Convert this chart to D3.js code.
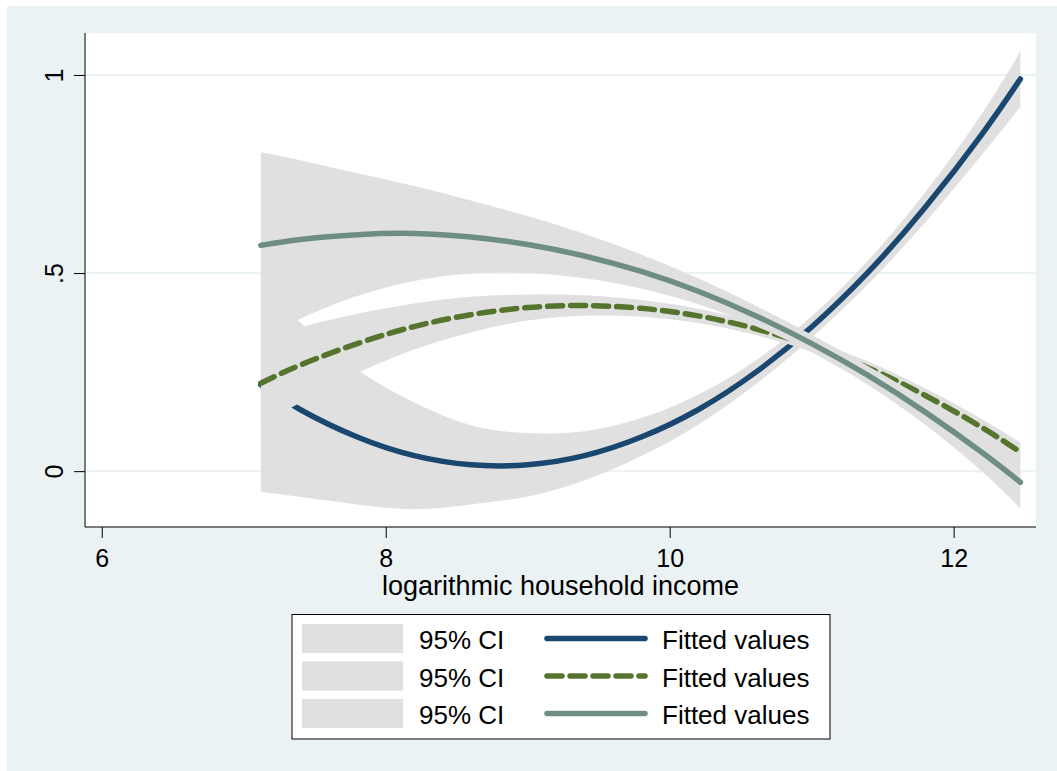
<!DOCTYPE html>
<html>
<head>
<meta charset="utf-8">
<script src="https://cdn.jsdelivr.net/npm/d3@7"></script>
<style>
  body { margin: 0; background: #fff; }
  svg { display: block; font-family: "Liberation Sans", Arial, sans-serif; }
</style>
</head>
<body>
<div id="chart"></div>
<script>
// Data (log household income on x)
const xGrid = [7.12, 7.4, 7.8, 8.2, 8.6, 9.0, 9.4, 9.8, 10.2, 10.6, 11.0, 11.4, 11.8, 12.2, 12.47];

const fit1 = [0.218, 0.155, 0.086, 0.039, 0.016, 0.016, 0.039, 0.086, 0.155, 0.248, 0.364, 0.503, 0.666, 0.851, 0.990];
const lo1  = [-0.052, -0.065, -0.084, -0.096, -0.084, -0.064, -0.023, 0.038, 0.117, 0.218, 0.337, 0.473, 0.628, 0.799, 0.920];
const hi1  = [0.488, 0.375, 0.256, 0.174, 0.116, 0.096, 0.101, 0.134, 0.193, 0.278, 0.391, 0.533, 0.704, 0.903, 1.060];

const fit2 = [0.222, 0.268, 0.322, 0.365, 0.395, 0.413, 0.418, 0.411, 0.392, 0.360, 0.316, 0.260, 0.191, 0.110, 0.048];
const lo2  = [0.112, 0.173, 0.247, 0.307, 0.350, 0.380, 0.392, 0.390, 0.374, 0.344, 0.301, 0.244, 0.173, 0.089, 0.024];
const hi2  = [0.332, 0.363, 0.397, 0.423, 0.440, 0.446, 0.444, 0.432, 0.410, 0.376, 0.331, 0.276, 0.209, 0.131, 0.072];

const fit3 = [0.570, 0.585, 0.597, 0.600, 0.591, 0.572, 0.543, 0.504, 0.454, 0.393, 0.322, 0.241, 0.149, 0.047, -0.028];
const lo3  = [0.335, 0.385, 0.442, 0.480, 0.499, 0.500, 0.487, 0.461, 0.421, 0.367, 0.300, 0.217, 0.117, -0.001, -0.094];
const hi3  = [0.805, 0.785, 0.752, 0.720, 0.683, 0.644, 0.599, 0.547, 0.487, 0.419, 0.344, 0.265, 0.181, 0.095, 0.038];

const xTicks = [6, 8, 10, 12];
const yTicks = [0, 0.5, 1];
const yTickLabels = ["0", ".5", "1"];
const legendLabels = ["95% CI", "Fitted values"];

// Styles
const bg = "#eaf2f3";
const ciColor = "#e0e0e0";
const lineColors = ["#1a476f", "#55752f", "#6e8e84"];
const dashes = [null, "15,8", null];

const W = 1057, H = 771;
const plot = { left: 85, right: 1036, top: 33, bottom: 527 };

const x = d3.scaleLinear().domain([5.882, 12.58]).range([plot.left, plot.right]);
const y = d3.scaleLinear().domain([-0.141, 1.106]).range([plot.bottom, plot.top]);

const svg = d3.select("#chart").append("svg").attr("width", W).attr("height", H);

// graph region
svg.append("rect").attr("x", 7).attr("y", 6).attr("width", W - 7).attr("height", H - 6).attr("fill", bg);
// plot region
svg.append("rect")
  .attr("x", plot.left).attr("y", plot.top)
  .attr("width", plot.right - plot.left).attr("height", plot.bottom - plot.top)
  .attr("fill", "#fff");

// grid lines
svg.append("g")
  .selectAll("line")
  .data(yTicks)
  .join("line")
  .attr("x1", plot.left).attr("x2", plot.right)
  .attr("y1", (d) => y(d)).attr("y2", (d) => y(d))
  .attr("stroke", bg).attr("stroke-width", 2);

// series: CI area then fitted line, in order
const series = [
  { fit: fit1, lo: lo1, hi: hi1 },
  { fit: fit2, lo: lo2, hi: hi2 },
  { fit: fit3, lo: lo3, hi: hi3 },
];

const area = d3.area()
  .x((d) => x(d.x))
  .y0((d) => y(d.lo))
  .y1((d) => y(d.hi))
  .curve(d3.curveNatural);

const line = d3.line()
  .x((d) => x(d.x))
  .y((d) => y(d.v))
  .curve(d3.curveNatural);

const g = svg.append("g");
series.forEach((s, i) => {
  const pts = xGrid.map((xv, j) => ({ x: xv, lo: s.lo[j], hi: s.hi[j], v: s.fit[j] }));
  g.append("path").attr("d", area(pts)).attr("fill", ciColor);
  g.append("path")
    .attr("d", line(pts))
    .attr("fill", "none")
    .attr("stroke", lineColors[i])
    .attr("stroke-width", 5.5)
    .attr("stroke-linecap", "round")
    .attr("stroke-dasharray", dashes[i]);
});

// axes
const yAxis = d3.axisLeft(y).tickValues(yTicks).tickSize(11).tickFormat((d, i) => yTickLabels[i]);
const yg = svg.append("g").attr("transform", `translate(${plot.left},0)`).call(yAxis);
yg.select(".domain").attr("d", `M0,${plot.top}V${plot.bottom}`).attr("stroke", "#000");
yg.selectAll(".tick line").attr("stroke", "#000");
yg.selectAll(".tick text")
  .attr("x", null).attr("dy", null)
  .attr("transform", "translate(-22,0) rotate(-90)")
  .attr("text-anchor", "middle")
  .attr("font-size", 25)
  .attr("font-family", "Liberation Sans, Arial, sans-serif")
  .attr("fill", "#000");

const xAxis = d3.axisBottom(x).tickValues(xTicks).tickSize(11).tickFormat(d3.format("d"));
const xg = svg.append("g").attr("transform", `translate(0,${plot.bottom})`).call(xAxis);
xg.select(".domain").attr("d", `M${plot.left},0H${plot.right}`).attr("stroke", "#000");
xg.selectAll(".tick line").attr("stroke", "#000");
xg.selectAll(".tick text")
  .attr("y", 40).attr("dy", null)
  .attr("font-size", 25)
  .attr("font-family", "Liberation Sans, Arial, sans-serif")
  .attr("fill", "#000");

svg.append("text")
  .attr("x", (plot.left + plot.right) / 2)
  .attr("y", 595)
  .attr("text-anchor", "middle")
  .attr("font-size", 27)
  .attr("fill", "#000")
  .text("logarithmic household income");

// legend
const leg = svg.append("g");
leg.append("rect")
  .attr("x", 292).attr("y", 614.5).attr("width", 538).attr("height", 124.5)
  .attr("fill", "#fff").attr("stroke", "#000").attr("stroke-width", 1);

const rowY = [638.5, 676, 713.5];
series.forEach((s, i) => {
  const cy = rowY[i];
  leg.append("rect")
    .attr("x", 302).attr("y", cy - 14.5).attr("width", 101).attr("height", 29)
    .attr("fill", ciColor);
  leg.append("text")
    .attr("x", 419).attr("y", cy + 10.5)
    .attr("font-size", 26).attr("fill", "#000")
    .text(legendLabels[0]);
  leg.append("line")
    .attr("x1", 547).attr("x2", 645).attr("y1", cy).attr("y2", cy)
    .attr("stroke", lineColors[i])
    .attr("stroke-width", 5.5)
    .attr("stroke-linecap", "round")
    .attr("stroke-dasharray", dashes[i]);
  leg.append("text")
    .attr("x", 662).attr("y", cy + 10.5)
    .attr("font-size", 26).attr("fill", "#000")
    .text(legendLabels[1]);
});
</script>
</body>
</html>
